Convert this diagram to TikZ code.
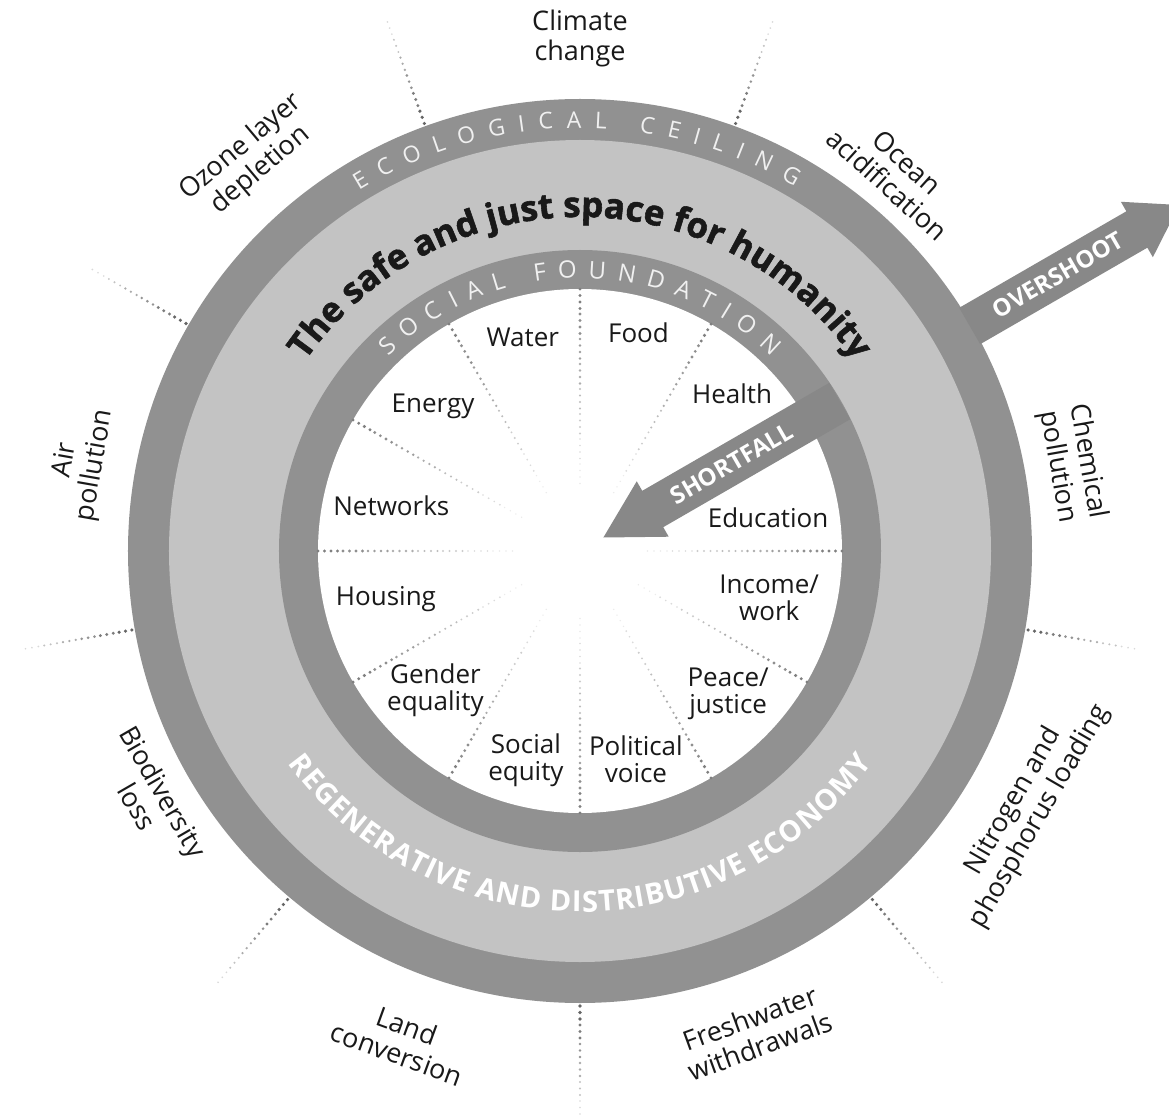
\documentclass[tikz,border=0pt]{standalone}
\usepackage{fontspec}
\setmainfont{Open Sans}
\newfontfamily\heavyfont{Open Sans}[BoldFeatures={FakeBold=1.6}]
\usepackage{tikz}
\usetikzlibrary{decorations.text}
\definecolor{ringdark}{gray}{0.57}
\definecolor{ringlight}{gray}{0.765}
\definecolor{arrowgray}{gray}{0.535}
\definecolor{labelblack}{gray}{0.1}
\definecolor{ringtext}{gray}{0.94}
\tikzset{
    dotline/.style={line cap=round, dash pattern=on 0pt off 6.5pt},
    outer label/.style={font=\fontsize{27}{30}\selectfont, align=center, text=labelblack},
    inner label/.style={font=\fontsize{26}{27}\selectfont, align=center, text=labelblack},
    arrow text/.style={font=\fontsize{24}{24}\selectfont\bfseries, text=white},
    big arrow/.style={fill=arrowgray},
}
\begin{document}
\begin{tikzpicture}[x=1pt,y=1pt]
        \useasboundingbox (-580,-568) rectangle (589,551);
        \fill[white] (-580,-568) rectangle (589,551);

        % outer dotted lines, fading outwards
        \foreach \a in {270,310,350,30,70,110,150,190,230}{
            \foreach \k in {0,...,5}{
                \pgfmathsetmacro\ra{455+\k*19}
                \pgfmathsetmacro\rb{\ra+19}
                \pgfmathtruncatemacro\sh{60-\k*9}
                \pgfmathsetmacro\lw{3.6-\k*0.35}
                \draw[dotline, line width=\lw pt, black!\sh] (\a:\ra) -- (\a:\rb);
            }
        }

        % rings
        \fill[ringdark] (0,0) circle[radius=452pt];
        \fill[ringlight] (0,0) circle[radius=411pt];
        \fill[ringdark] (0,0) circle[radius=301pt];
        \fill[white] (0,0) circle[radius=262pt];

        % inner dotted lines, fading to the centre
        \foreach \a in {0,30,...,330}{
            \foreach \k in {0,...,7}{
                \pgfmathsetmacro\ra{262-\k*25}
                \pgfmathsetmacro\rb{\ra-25}
                \pgfmathtruncatemacro\sh{50-\k*6}
                \pgfmathsetmacro\lw{3.3-\k*0.25}
                \draw[dotline, line width=\lw pt, black!\sh] (\a:\ra) -- (\a:\rb);
            }
        }

        % texts along the rings
        \path[decorate, decoration={text along path, text color=ringtext,
            text={|\fontsize{23}{23}\selectfont|ECOLOGICAL CEILING}, text align={fit to path}}]
            (121.5:423) arc[start angle=121.5, end angle=59.5, radius=423pt];
        \path[decorate, decoration={text along path, text color=ringtext,
            text={|\fontsize{24}{24}\selectfont|SOCIAL FOUNDATION}, text align={fit to path}}]
            (134.5:273) arc[start angle=134.5, end angle=45.5, radius=273pt];
        \path[decorate, decoration={text along path, text color=labelblack,
            text={|\heavyfont\fontsize{35}{35}\selectfont\bfseries|The safe and just space for humanity}, text align={align=center}}]
            (155:334) arc[start angle=155, end angle=25, radius=334pt];
        \path[decorate, decoration={text along path, text color=white,
            text={|\fontsize{29}{29}\selectfont\bfseries|REGENERATIVE AND DISTRIBUTIVE ECONOMY}, text align={fit to path}}]
            (216:361) arc[start angle=216, end angle=324, radius=361pt];

        % ecological ceiling
        \node[outer label] (climate) at (90:513) {Climate\\change};
        \node[outer label, rotate=-42] (ocean) at (50:493) {Ocean\\acidification};
        \node[outer label, rotate=-80] (chemical) at (10:500) {Chemical\\pollution};
        \node[outer label, rotate=60] (nitrogen) at (-30:516) {Nitrogen and\\phosphorus loading};
        \node[outer label, rotate=20] (freshwater) at (-70:512) {Freshwater\\withdrawals};
        \node[outer label, rotate=-20] (land) at (-110:520) {Land\\conversion};
        \node[outer label, rotate=-60] (biodiversity) at (210:496) {Biodiversity\\loss};
        \node[outer label, rotate=80] (air) at (170:507) {Air\\pollution};
        \node[outer label, rotate=40] (ozone) at (130:512) {Ozone layer\\depletion};

        % social foundation
        \node[inner label] (water) at (105:221) {Water};
        \node[inner label] (food) at (75:226) {Food};
        \node[inner label] (health) at (46:219) {Health};
        \node[inner label] (education) at (10:191) {Education};
        \node[inner label] (income) at (-14:195) {Income/\\work};
        \node[inner label] (peace) at (-44:206) {Peace/\\justice};
        \node[inner label] (political) at (-75:216) {Political\\voice};
        \node[inner label] (socialeq) at (-104.5:216) {Social\\equity};
        \node[inner label] (gender) at (-136:201) {Gender\\equality};
        \node[inner label] (housing) at (-166:200) {Housing};
        \node[inner label] (networks) at (166.5:194) {Networks};
        \node[inner label] (energy) at (135.5:206) {Energy};

        % overshoot and shortfall
        \begin{scope}[rotate=30]
            \fill[big arrow] (450,-21) -- (643,-21) -- (643,-32) -- (692,0)
                -- (643,32) -- (643,21) -- (450,21) -- cycle;
            \node[arrow text, rotate=30] (overshoot) at (552,0) {OVERSHOOT};
            \fill[big arrow] (300,21) -- (84,21) -- (84,32) -- (27,0)
                -- (84,-32) -- (84,-21) -- (300,-21) -- cycle;
            \node[arrow text, rotate=30] (shortfall) at (175,0) {SHORTFALL};
        \end{scope}
    \end{tikzpicture}
\end{document}
